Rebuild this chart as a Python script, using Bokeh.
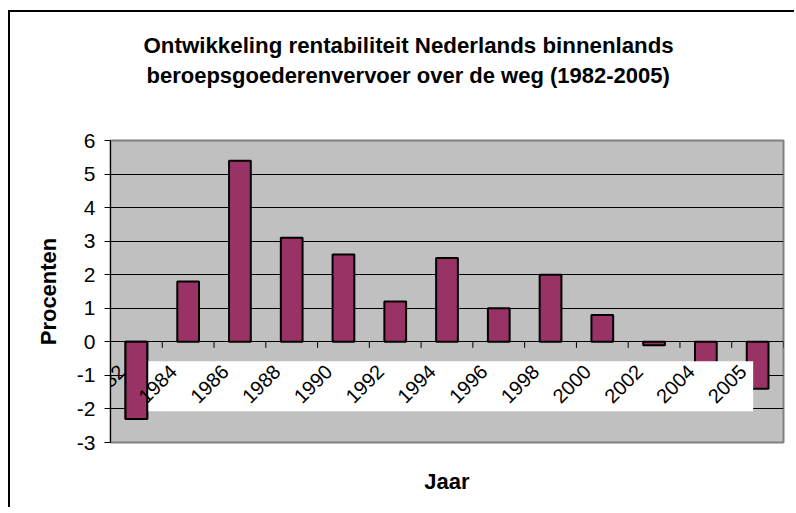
import math
from bokeh.plotting import figure
from bokeh.models import (Range1d, FixedTicker, Title, ColumnDataSource, CDSView,
                          IndexFilter, LabelSet, PrintfTickFormatter, InlineStyleSheet)
from bokeh.core.properties import value
from bokeh.embed import file_html
from bokeh.resources import INLINE

# ---- data ----
years = ["1982", "1984", "1986", "1988", "1990", "1992", "1994",
         "1996", "1998", "2000", "2002", "2004", "2005"]
rentabiliteit = [-2.3, 1.8, 5.4, 3.1, 2.6, 1.2, 2.5, 1.0, 2.0, 0.8, -0.1, -0.8, -1.4]
y_ticks = [-3, -2, -1, 0, 1, 2, 3, 4, 5, 6]
title_lines = ["Ontwikkeling rentabiliteit Nederlands binnenlands",
               "beroepsgoederenvervoer over de weg (1982-2005)"]

FONT = "Liberation Sans"
BAR_COLOR = "#993366"
PLOT_BG = "#C0C0C0"

n = len(years)
centers = [i + 0.5 for i in range(n)]
boundaries = list(range(n + 1))

src = ColumnDataSource(dict(x=centers, top=rentabiliteit, year=years,
                            zero=[0] * n))

p = figure(width=794, height=507, output_backend="svg", toolbar_location=None,
           x_range=Range1d(0, n), y_range=Range1d(y_ticks[0], y_ticks[-1]),
           min_border_left=110, min_border_right=11, min_border_top=140,
           min_border_bottom=65, title=None)
# outer chart border: only its top and left edges fall inside the window,
# painted as the element background behind a transparent canvas
p.stylesheets = [InlineStyleSheet(css=(
    ":host { background: "
    "linear-gradient(#000, #000) 8px 10px / 2px 100% no-repeat, "
    "linear-gradient(#000, #000) 8px 10px / 100% 2px no-repeat, "
    "#ffffff; }"))]
p.border_fill_color = None
p.background_fill_color = PLOT_BG
p.outline_line_color = "#808080"
p.outline_line_width = 2

# grid
p.xgrid.visible = False
p.ygrid.ticker = FixedTicker(ticks=y_ticks)
p.ygrid.grid_line_color = "black"
p.ygrid.grid_line_width = 1

# y axis
p.yaxis.ticker = FixedTicker(ticks=y_ticks)
p.yaxis.formatter = PrintfTickFormatter(format="%d")
p.yaxis.axis_line_color = "black"
p.yaxis.major_tick_line_color = "black"
p.yaxis.major_tick_out = 6
p.yaxis.major_tick_in = 0
p.yaxis.minor_tick_line_color = None
p.yaxis.major_label_text_font = FONT
p.yaxis.major_label_text_font_size = "21px"
p.yaxis.major_label_text_color = "black"
p.yaxis.major_label_standoff = 9
p.yaxis.axis_label = "Procenten"
p.yaxis.axis_label_text_font = FONT
p.yaxis.axis_label_text_font_size = "22px"
p.yaxis.axis_label_text_font_style = "bold"
p.yaxis.axis_label_text_color = "black"
p.yaxis.axis_label_standoff = 13

# x axis: only the title "Jaar"
p.xaxis.ticker = FixedTicker(ticks=[])
p.xaxis.axis_line_color = None
p.xaxis.major_tick_line_color = None
p.xaxis.minor_tick_line_color = None
p.xaxis.axis_label = "Jaar"
p.xaxis.axis_label_text_font = FONT
p.xaxis.axis_label_text_font_size = "22px"
p.xaxis.axis_label_text_font_style = "bold"
p.xaxis.axis_label_text_color = "black"
p.xaxis.axis_label_standoff = 26

# titles (stacked upward from the frame)
spacer = Title(text=" ", text_font_size="1px", standoff=50)
t2 = Title(text=title_lines[1], align="left", offset=36, standoff=0,
           text_font=FONT, text_font_size="22px", text_font_style="bold",
           text_color="black")
t1 = Title(text=title_lines[0], align="left", offset=33, standoff=6,
           text_font=FONT, text_font_size="22.3px", text_font_style="bold",
           text_color="black")
p.add_layout(spacer, "above")
p.add_layout(t2, "above")
p.add_layout(t1, "above")

# bars
p.vbar(x="x", top="top", bottom=0, width=0.42, source=src,
       fill_color=BAR_COLOR, line_color="black", line_width=2)

# tick marks on the zero line at category boundaries
p.segment(x0=boundaries, y0=[0] * len(boundaries), x1=boundaries,
          y1=[-0.18] * len(boundaries), line_color="black", line_width=1)

# white background of the category labels
p.quad(left=0.419, right=12.414, top=-0.58, bottom=-2.07,
       fill_color="white", line_color=None)

# category labels (rotated)
labels = LabelSet(x="x", y="zero", text="year", source=src, angle=math.pi / 4,
                  x_offset=-30.5, y_offset=-42, text_align="center",
                  text_baseline="middle", text_font=value(FONT),
                  text_font_size=value("20px"), text_color="black")
p.add_layout(labels)

# first bar drawn above its label box, as in the original
p.vbar(x="x", top="top", bottom=0, width=0.42, source=src,
       view=CDSView(filter=IndexFilter([0])),
       fill_color=BAR_COLOR, line_color="black", line_width=2)

open("out.html", "w").write(file_html(p, INLINE))
